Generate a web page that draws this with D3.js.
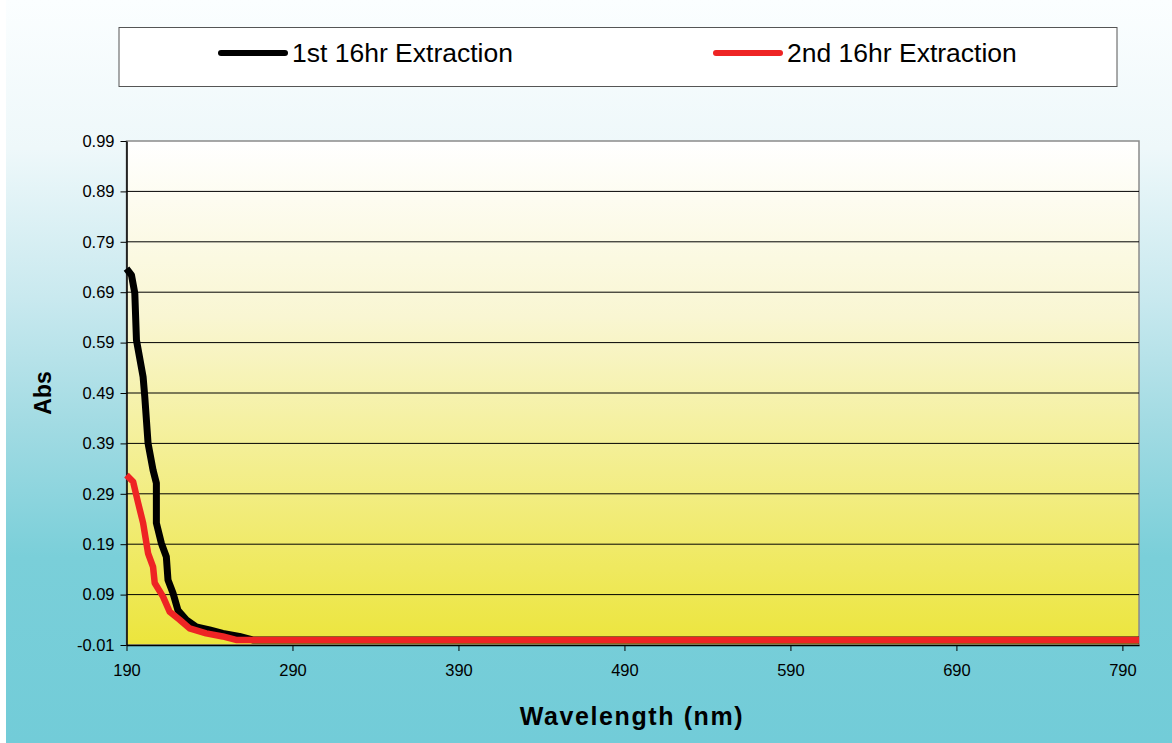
<!DOCTYPE html>
<html><head><meta charset="utf-8">
<script src="https://cdn.jsdelivr.net/npm/d3@7"></script>
<style>body{margin:0;padding:0;overflow:hidden}svg{display:block}</style>
</head><body>
<script>
const seriesNames = ["1st 16hr Extraction", "2nd 16hr Extraction"];
const seriesColors = ["#000000", "#ee2424"];
const wl1 = [190,193,195,196,200,201,203,206,208,208,211,214,215,218,221,226,232,240,248,258,266,800];
const abs1 = [0.737,0.724,0.688,0.595,0.522,0.483,0.39,0.337,0.311,0.232,0.192,0.165,0.119,0.093,0.059,0.040,0.026,0.020,0.013,0.007,0.0,0.0];
const wl2 = [190,194,197,200,203,206,207,212,216,222,228,238,248,256,800];
const abs2 = [0.327,0.314,0.272,0.232,0.172,0.145,0.113,0.086,0.056,0.040,0.023,0.013,0.007,0.0,0.0];
const xTicks = [190,290,390,490,590,690,790];
const yTicks = [-0.01,0.09,0.19,0.29,0.39,0.49,0.59,0.69,0.79,0.89,0.99];

const W = 1172, H = 743;
const m = {l:126.5, t:141, r:1139, b:645};
const FONT = "Arial, Liberation Sans, sans-serif";
const svg = d3.select("body").append("svg").attr("width", W).attr("height", H);
const defs = svg.append("defs");
const bg = defs.append("linearGradient").attr("id","bg").attr("x1",0).attr("y1",0).attr("x2",0).attr("y2",1);
bg.append("stop").attr("offset","0%").attr("stop-color","#fbfeff");
bg.append("stop").attr("offset","20%").attr("stop-color","#eef8fa");
bg.append("stop").attr("offset","40%").attr("stop-color","#c9e9ef");
bg.append("stop").attr("offset","57%").attr("stop-color","#a2dbe3");
bg.append("stop").attr("offset","75%").attr("stop-color","#7acfd9");
bg.append("stop").attr("offset","100%").attr("stop-color","#72ccd8");
const pg = defs.append("linearGradient").attr("id","pg").attr("x1",0).attr("y1",0).attr("x2",0).attr("y2",1);
pg.append("stop").attr("offset","0%").attr("stop-color","#ffffff");
pg.append("stop").attr("offset","35%").attr("stop-color","#f9f6d2");
pg.append("stop").attr("offset","100%").attr("stop-color","#ece53c");

svg.append("rect").attr("width",W).attr("height",H).attr("fill","url(#bg)");
svg.append("rect").attr("width",6).attr("height",H).attr("fill","#ffffff");

const x = d3.scaleLinear().domain([190,800]).range([m.l, m.r]);
const y = d3.scaleLinear().domain([-0.01,0.99]).range([m.b, m.t]);

svg.append("rect").attr("x",m.l).attr("y",m.t).attr("width",m.r-m.l).attr("height",m.b-m.t)
  .attr("fill","url(#pg)").attr("stroke","#8a8a8a").attr("stroke-width",1.5);

// gridlines
svg.append("g").selectAll("line").data(yTicks.slice(1,-1)).join("line")
  .attr("x1",m.l).attr("x2",m.r).attr("y1",d=>y(d)).attr("y2",d=>y(d))
  .attr("stroke","#000").attr("stroke-width",1);

// axes
const fmtY = d => d.toFixed(2);
const yAxis = svg.append("g").attr("transform",`translate(${m.l},0)`)
  .call(d3.axisLeft(y).tickValues(yTicks).tickFormat(fmtY).tickSize(6).tickSizeOuter(0));
const xAxis = svg.append("g").attr("transform",`translate(0,${m.b})`)
  .call(d3.axisBottom(x).tickValues(xTicks).tickFormat(d=>String(d)).tickSize(6).tickSizeOuter(0));
[yAxis,xAxis].forEach(a=>{
  a.attr("font-size",null).attr("font-family",null);
  a.select(".domain").attr("stroke","#000").attr("stroke-width",1.5);
  a.selectAll(".tick line").attr("stroke","#000");
  a.selectAll("text").style("font-family",FONT).style("font-size","16.5px").attr("fill","#000");
});
yAxis.selectAll("text").attr("x",-12);
xAxis.selectAll("text").attr("y",19);

const line = d3.line().x(d=>x(d[0])).y(d=>y(d[1]));
const data = [d3.zip(wl1,abs1), d3.zip(wl2,abs2)];
svg.append("g").selectAll("path").data(data).join("path")
  .attr("d",line).attr("fill","none")
  .attr("stroke",(d,i)=>seriesColors[i]).attr("stroke-width",(d,i)=>i===0?7:6.5)
  .attr("stroke-linejoin","round");

// axis titles
svg.append("text").attr("transform",`translate(51,393) rotate(-90)`).attr("text-anchor","middle")
  .style("font-family",FONT).attr("font-weight","bold").style("font-size","23px").text("Abs");
svg.append("text").attr("x",632).attr("y",725).attr("text-anchor","middle")
  .style("font-family",FONT).attr("font-weight","bold").style("font-size","25px")
  .attr("letter-spacing","1.6").text("Wavelength (nm)");

// legend
const lg = svg.append("g");
lg.append("rect").attr("x",119).attr("y",27.5).attr("width",998).attr("height",59)
  .attr("fill","#fff").attr("stroke","#555").attr("stroke-width",1);
const lx = [221, 716];
seriesNames.forEach((n,i)=>{
  lg.append("line").attr("x1",lx[i]).attr("x2",lx[i]+64).attr("y1",53).attr("y2",53)
    .attr("stroke",seriesColors[i]).attr("stroke-width",6).attr("stroke-linecap","round");
  lg.append("text").attr("x",lx[i]+71).attr("y",62).style("font-family",FONT)
    .style("font-size","26.5px").text(n);
});
</script>
</body></html>
